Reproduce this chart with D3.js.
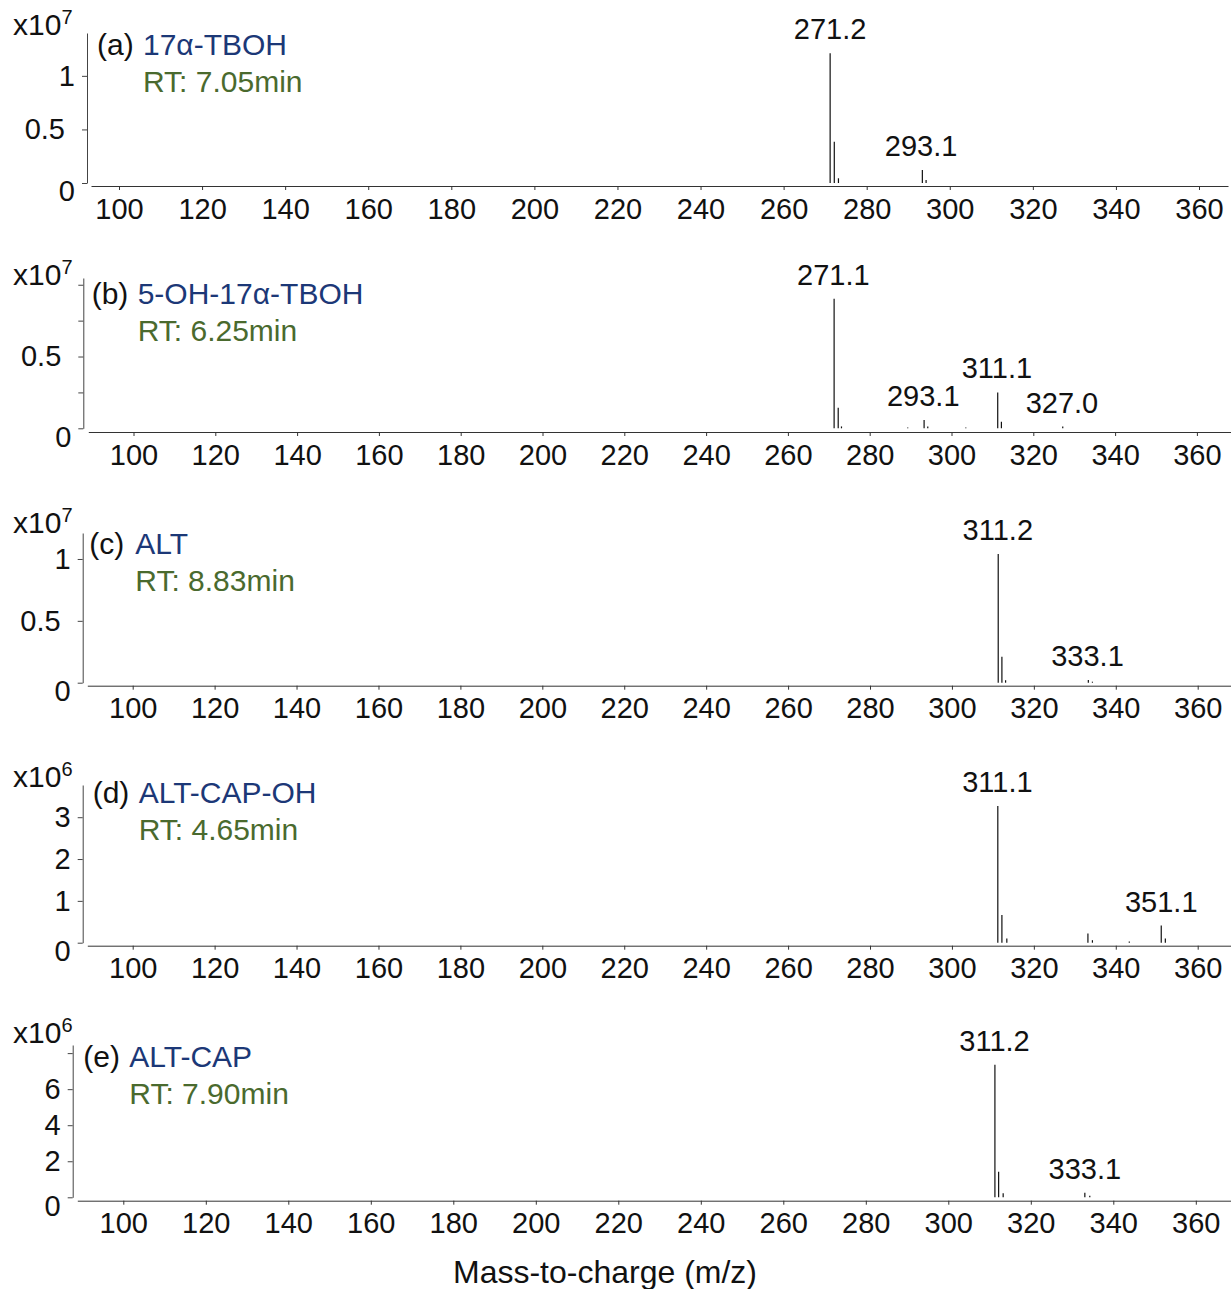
<!DOCTYPE html>
<html>
<head>
<meta charset="utf-8">
<script src="https://cdn.jsdelivr.net/npm/d3@7"></script>
<style>
  body { margin: 0; background: #fff; }
  text { font-family: "Liberation Sans", Arial, sans-serif; }
</style>
</head>
<body>
<div id="chart"></div>
<script>
// Panel text
const panelIds = ["(a)", "(b)", "(c)", "(d)", "(e)"];
const compounds = ["17α-TBOH", "5-OH-17α-TBOH", "ALT", "ALT-CAP-OH", "ALT-CAP"];
const retention = ["RT: 7.05min", "RT: 6.25min", "RT: 8.83min", "RT: 4.65min", "RT: 7.90min"];
const exponents = ["7", "7", "7", "6", "6"];

// x ticks (m/z)
const xTicks = [100, 120, 140, 160, 180, 200, 220, 240, 260, 280, 300, 320, 340, 360];

// y ticks for each panel (in units of the exponent)
const yTicksA = [0, 0.5, 1];
const yLabelsA = ["0", "0.5", "1"];
const yTicksB = [0, 0.25, 0.5, 0.75, 1];
const yLabelsB = ["0", "", "0.5", "", ""];
const yTicksC = [0, 0.5, 1];
const yLabelsC = ["0", "0.5", "1"];
const yTicksD = [0, 1, 2, 3];
const yLabelsD = ["0", "1", "2", "3"];
const yTicksE = [0, 2, 4, 6, 8];
const yLabelsE = ["0", "2", "4", "6", ""];

// spectra: m/z and intensity
const mzA = [271.2, 272.2, 273.2, 293.4, 294.3];
const intA = [1.212, 0.386, 0.044, 0.121, 0.028];
const mzB = [271.3, 272.3, 273.1, 289.3, 293.3, 294.2, 303.5, 311.3, 312.2, 327.2];
const intB = [0.903, 0.143, 0.013, 0.006, 0.058, 0.012, 0.005, 0.25, 0.046, 0.012];
const mzC = [311.3, 312.2, 313.1, 333.3, 334.3];
const intC = [1.04, 0.21, 0.02, 0.022, 0.008];
const mzD = [311.2, 312.2, 313.4, 333.2, 334.3, 343.3, 351.1, 352.1];
const intD = [3.27, 0.66, 0.1, 0.22, 0.06, 0.03, 0.41, 0.1];
const mzE = [311.3, 312.2, 313.3, 333.1, 334.3];
const intE = [7.35, 1.42, 0.22, 0.25, 0.08];

// peak annotations
const peakLabelsA = ["271.2", "293.1"];
const peakLabelsB = ["271.1", "293.1", "311.1", "327.0"];
const peakLabelsC = ["311.2", "333.1"];
const peakLabelsD = ["311.1", "351.1"];
const peakLabelsE = ["311.2", "333.1"];

// layout (pixels) for each panel
const layout = [
  { axisX: 87,   top: 33,   zeroY: 183,   yMax: 1.40,  xAxisY: 186,   xLeft: 91,   xRight: 1228, x100: 119,   x360: 1199,   idX: 97,   idY: 55,   expY: 35 },
  { axisX: 83.3, top: 278,  zeroY: 428.3, yMax: 1.047, xAxisY: 432,   xLeft: 88.3, xRight: 1231, x100: 133.5, x360: 1196.9, idX: 91.7, idY: 304,  expY: 285 },
  { axisX: 82.7, top: 533,  zeroY: 682.7, yMax: 1.21,  xAxisY: 685.7, xLeft: 87.3, xRight: 1231, x100: 132.7, x360: 1197.7, idX: 89.3, idY: 554,  expY: 533 },
  { axisX: 82.7, top: 785,  zeroY: 942.7, yMax: 3.77,  xAxisY: 945.7, xLeft: 87.3, xRight: 1231, x100: 132.7, x360: 1197.7, idX: 92.7, idY: 803,  expY: 787 },
  { axisX: 72.7, top: 1045, zeroY: 1197.3, yMax: 8.45, xAxisY: 1200.7, xLeft: 77.3, xRight: 1231, x100: 123.3, x360: 1195.8, idX: 83.3, idY: 1067, expY: 1043 }
];

const panels = [
  { mz: mzA, inten: intA, yTicks: yTicksA, yLabels: yLabelsA, peaks: peakLabelsA },
  { mz: mzB, inten: intB, yTicks: yTicksB, yLabels: yLabelsB, peaks: peakLabelsB },
  { mz: mzC, inten: intC, yTicks: yTicksC, yLabels: yLabelsC, peaks: peakLabelsC },
  { mz: mzD, inten: intD, yTicks: yTicksD, yLabels: yLabelsD, peaks: peakLabelsD },
  { mz: mzE, inten: intE, yTicks: yTicksE, yLabels: yLabelsE, peaks: peakLabelsE }
];

const W = 1231, H = 1289;
const tickFont = 29;
const titleFont = 30;
const blue = "#1c3877";
const green = "#4a6a2e";

const svg = d3.select("#chart")
    .append("svg")
    .attr("width", W)
    .attr("height", H);

svg.append("rect").attr("width", W).attr("height", H).attr("fill", "#fff");

panels.forEach((p, i) => {
    const L = layout[i];
    const g = svg.append("g");

    // scales
    const x0 = d3.scaleLinear().domain([100, 360]).range([L.x100, L.x360]);
    const x = d3.scaleLinear()
        .domain([x0.invert(L.xLeft), x0.invert(L.xRight)])
        .range([L.xLeft, L.xRight]);
    const y = d3.scaleLinear().domain([0, L.yMax]).range([L.zeroY, L.top]);

    // x axis
    const xAxis = g.append("g")
        .attr("transform", `translate(0,${L.xAxisY})`)
        .call(d3.axisBottom(x).tickValues(xTicks).tickSize(4).tickSizeOuter(0).tickPadding(8));
    xAxis.select(".domain").attr("stroke", "#333");
    xAxis.selectAll(".tick line").attr("stroke", "#333");
    xAxis.selectAll("text")
        .attr("font-size", tickFont)
        .attr("font-family", '"Liberation Sans", Arial, sans-serif')
        .attr("fill", "#111");

    // y axis
    const yAxis = g.append("g")
        .attr("transform", `translate(${L.axisX},0)`)
        .call(d3.axisLeft(y).tickValues(p.yTicks)
            .tickFormat((d, k) => p.yLabels[k])
            .tickSize(5).tickSizeOuter(0).tickPadding(7));
    yAxis.select(".domain").attr("stroke", "#444");
    yAxis.selectAll(".tick line").attr("stroke", "#444");
    yAxis.selectAll("text")
        .attr("font-size", tickFont)
        .attr("font-family", '"Liberation Sans", Arial, sans-serif')
        .attr("fill", "#111")
        .attr("dx", function () { return this.textContent.length > 1 ? -10 : 0; })
        .attr("dy", d => d === 0 ? "0.62em" : "0.32em");

    // exponent label
    const ex = g.append("text")
        .attr("x", 13)
        .attr("y", L.expY)
        .attr("font-size", titleFont)
        .attr("fill", "#111")
        .text("x10");
    ex.append("tspan")
        .attr("font-size", 20)
        .attr("dy", -11)
        .text(exponents[i]);

    // title
    g.append("text")
        .attr("x", L.idX)
        .attr("y", L.idY)
        .attr("font-size", titleFont)
        .attr("fill", "#111")
        .text(panelIds[i]);
    g.append("text")
        .attr("x", L.idX + 46)
        .attr("y", L.idY)
        .attr("font-size", titleFont)
        .attr("fill", blue)
        .text(compounds[i]);
    g.append("text")
        .attr("x", L.idX + 46)
        .attr("y", L.idY + 37)
        .attr("font-size", titleFont)
        .attr("fill", green)
        .text(retention[i]);

    // sticks
    const data = p.mz.map((m, k) => [m, p.inten[k]]);
    g.selectAll(".stick")
        .data(data)
        .enter()
        .append("line")
        .attr("class", "stick")
        .attr("x1", d => x(d[0]))
        .attr("x2", d => x(d[0]))
        .attr("y1", y(0))
        .attr("y2", d => y(d[1]))
        .attr("stroke", "#111")
        .attr("stroke-width", 1.2);

    // peak labels, placed above the nearest stick
    g.selectAll(".peak")
        .data(p.peaks)
        .enter()
        .append("text")
        .attr("class", "peak")
        .attr("x", d => x(+d))
        .attr("y", d => {
            const near = d3.least(data, e => Math.abs(e[0] - +d));
            return y(near[1]) - 14;
        })
        .attr("text-anchor", "middle")
        .attr("font-size", tickFont)
        .attr("fill", "#111")
        .text(d => d);
});

// x axis title
svg.append("text")
    .attr("x", 605)
    .attr("y", 1283)
    .attr("text-anchor", "middle")
    .attr("font-size", 32)
    .attr("fill", "#111")
    .text("Mass-to-charge (m/z)");
</script>
</body>
</html>
